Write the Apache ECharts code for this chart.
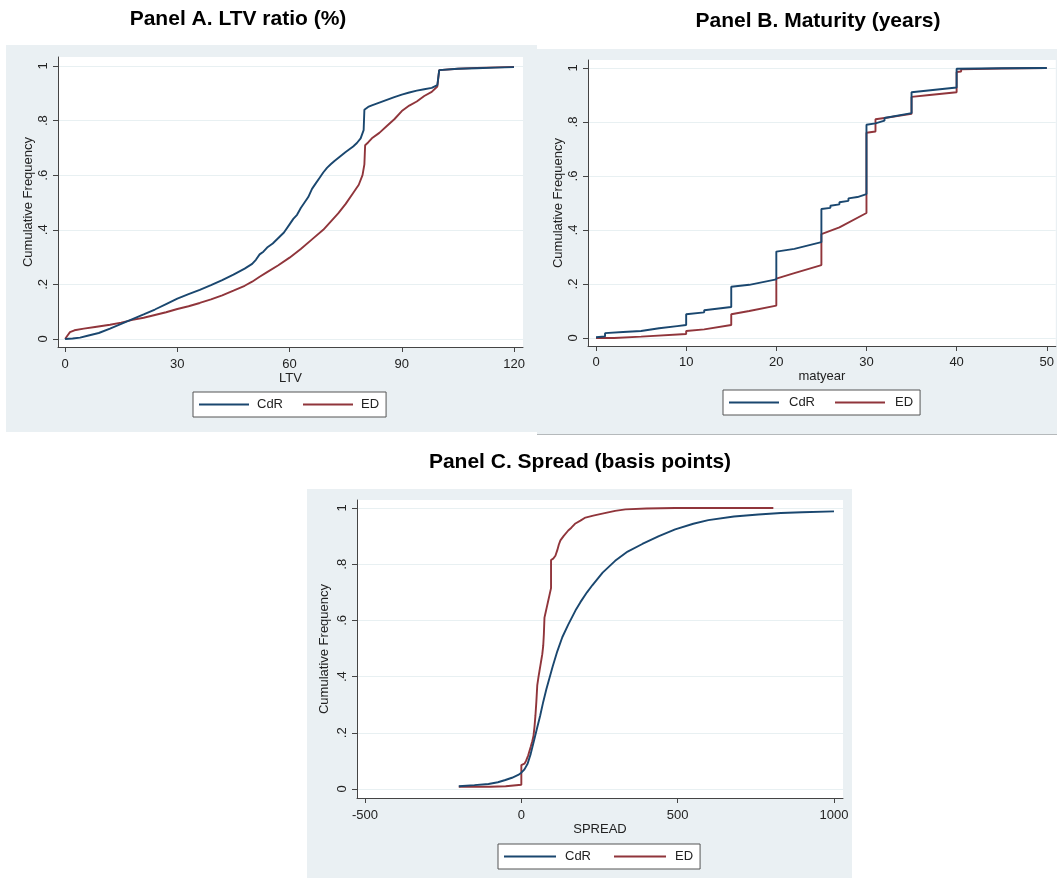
<!DOCTYPE html>
<html><head><meta charset="utf-8">
<script src="https://cdn.jsdelivr.net/npm/echarts@6/dist/echarts.min.js"></script>
<style>html,body{margin:0;padding:0;background:#fff}#c{width:1057px;height:878px}</style>
</head><body><div id="c"></div>
<script>
// ---------- DATA ----------
const seriesNames = ['CdR', 'ED'];
const panelTitles = ['Panel A. LTV ratio (%)', 'Panel B. Maturity (years)', 'Panel C. Spread (basis points)'];
const xAxisTitles = ['LTV', 'matyear', 'SPREAD'];
const yAxisTitle = 'Cumulative Frequency';
const yTicks = [0, 0.2, 0.4, 0.6, 0.8, 1];
const yTickLabels = ['0', '.2', '.4', '.6', '.8', '1'];
const ltvTicks = [0, 30, 60, 90, 120];
const matTicks = [0, 10, 20, 30, 40, 50];
const spreadTicks = [-500, 0, 500, 1000];

// Panel A: LTV ratio
const ltvCdR = [[0,0],[2,0.002],[4,0.005],[6,0.012],[9,0.022],[12,0.038],[15,0.055],[18,0.073],[21,0.09],[24,0.108],[27,0.128],[30,0.148],[33,0.164],[36,0.18],[39,0.197],[42,0.216],[45,0.236],[48,0.258],[50,0.275],[51,0.29],[52,0.31],[53,0.32],[54,0.335],[55.5,0.35],[57,0.37],[58.5,0.39],[60,0.42],[61,0.44],[62,0.455],[63,0.48],[64,0.5],[65,0.52],[66,0.55],[67,0.57],[68,0.59],[69,0.61],[70,0.627],[71,0.64],[72,0.652],[73,0.663],[74,0.674],[75,0.685],[76,0.695],[77,0.705],[78,0.718],[79,0.735],[79.8,0.765],[80,0.84],[81,0.85],[82,0.856],[84,0.866],[86,0.876],[88,0.886],[90,0.895],[92,0.903],[94,0.91],[96,0.915],[98,0.92],[99.5,0.93],[100,0.985],[105,0.99],[110,0.992],[115,0.994],[120,0.996]];
const ltvED = [[0,0],[0.5,0.01],[1.3,0.025],[2.5,0.032],[5,0.038],[8,0.044],[12,0.052],[15,0.06],[18,0.07],[21,0.078],[24,0.088],[27,0.098],[30,0.11],[33,0.12],[36,0.132],[39,0.145],[42,0.16],[45,0.177],[48,0.195],[50,0.21],[52,0.228],[54,0.245],[57,0.27],[60,0.298],[63,0.33],[66,0.365],[69,0.4],[71,0.43],[73,0.46],[75,0.495],[77,0.535],[78.5,0.565],[79.5,0.6],[80,0.64],[80.2,0.71],[81,0.72],[82,0.735],[84,0.755],[86,0.78],[88,0.805],[90,0.835],[92,0.855],[94,0.87],[96,0.89],[98,0.905],[99.5,0.925],[100,0.985],[105,0.99],[110,0.993],[115,0.995],[120,0.997]];

// Panel B: maturity (years)
const matCdR = [[0,0.003],[1,0.006],[1,0.018],[3,0.022],[5,0.026],[5,0.032],[7,0.036],[9,0.044],[10,0.048],[10,0.088],[12,0.095],[12,0.103],[15,0.115],[15,0.19],[17,0.197],[20,0.217],[20,0.32],[22,0.33],[25,0.355],[25,0.478],[26,0.482],[26,0.49],[27,0.495],[27,0.503],[28,0.508],[28,0.517],[29,0.522],[29,0.527],[30,0.533],[30,0.79],[31,0.795],[31,0.8],[32,0.805],[32,0.815],[35,0.833],[35,0.91],[40,0.928],[40,0.997],[45,0.999],[50,1.0]];
const matED = [[0,0],[2,0],[5,0.005],[10,0.015],[10,0.026],[12,0.032],[15,0.048],[15,0.088],[17,0.1],[20,0.12],[20,0.22],[22,0.24],[25,0.27],[25,0.385],[27,0.41],[30,0.463],[30,0.76],[31,0.765],[31,0.81],[32,0.815],[35,0.83],[35,0.893],[37,0.9],[40,0.91],[40,0.985],[40.5,0.987],[40.5,0.995],[45,0.998],[50,1.0]];

// Panel C: spread (basis points)
const spreadCdR = [[-200,0.01],[-150,0.014],[-105,0.018],[-75,0.024],[-51,0.032],[-30,0.04],[-10,0.05],[0,0.058],[10,0.07],[20,0.09],[30,0.125],[40,0.17],[50,0.215],[60,0.26],[70,0.31],[80,0.355],[90,0.395],[100,0.435],[115,0.49],[131,0.54],[150,0.585],[173,0.635],[189,0.665],[210,0.7],[227,0.725],[260,0.77],[300,0.812],[340,0.845],[387,0.872],[440,0.9],[492,0.924],[550,0.944],[598,0.957],[680,0.97],[758,0.977],[830,0.982],[898,0.985],[1000,0.988]];
const spreadED = [[-200,0.008],[-100,0.008],[-50,0.01],[0,0.015],[0,0.085],[10,0.09],[15,0.1],[22,0.12],[30,0.15],[35,0.17],[39,0.19],[42,0.22],[45,0.26],[48,0.31],[51,0.37],[55,0.4],[58,0.42],[61,0.44],[64,0.46],[67,0.48],[70,0.51],[72,0.55],[74,0.61],[78,0.63],[82,0.65],[86,0.67],[90,0.69],[95,0.715],[95,0.815],[102,0.82],[109,0.83],[115,0.85],[120,0.87],[125,0.885],[135,0.9],[150,0.92],[160,0.93],[173,0.945],[189,0.955],[205,0.966],[230,0.973],[259,0.98],[300,0.99],[333,0.995],[400,0.998],[492,1.0],[806,1.0]];

// ---------- CHART ----------
const FONT = '"Liberation Sans", Arial, Helvetica, sans-serif';
const BLUE = '#1a476f', RED = '#90353b';
const BG = '#eaf0f3';
const AXIS = '#444';

const panels = [
  {grid:{left:58, top:57, width:465, height:290}, xmin:-1.9, xmax:122.4, ymin:-0.0293, ymax:1.033, ticks:ltvTicks, lblMargin:11, nameGap:23, yNameGap:23,
   title:{x:238, y:9}, bg:[6,45,531,387], legend:{left:193, top:392, iw:50, gap:20, tp:3}, data:[ltvCdR, ltvED]},
  {grid:{left:588, top:60, width:468, height:286}, xmin:-0.89, xmax:51.0, ymin:-0.0296, ymax:1.0296, ticks:matTicks, lblMargin:10, nameGap:22, yNameGap:23,
   title:{x:818, y:11}, bg:[537,49,520,385], legend:{left:723, top:390, iw:50, gap:20, tp:5}, data:[matCdR, matED]},
  {grid:{left:357, top:500, width:486, height:298}, xmin:-525.6, xmax:1028.8, ymin:-0.032, ymax:1.0285, ticks:spreadTicks, lblMargin:11, nameGap:23, yNameGap:26,
   title:{x:580, y:452}, bg:[307,489,545,389], legend:{left:498, top:844, iw:52, gap:23, tp:4}, data:[spreadCdR, spreadED]}
];

const option = {
  animation: false,
  backgroundColor: '#fff',
  textStyle: {fontFamily: FONT},
  title: panels.map((p, i) => ({
    text: panelTitles[i], left: p.title.x, top: p.title.y, textAlign: 'center', padding: 0,
    textStyle: {fontFamily: FONT, fontWeight: 'bold', fontSize: 21, color: '#000'}
  })),
  graphic: panels.map(p => ({
    type: 'rect', z: -10, silent: true,
    shape: {x: p.bg[0], y: p.bg[1], width: p.bg[2], height: p.bg[3]},
    style: {fill: BG}
  })).concat([{type:'line', z:-9, silent:true, shape:{x1:537,y1:434.5,x2:1057,y2:434.5}, style:{stroke:'#b5b9bb', lineWidth:1}}]),
  grid: panels.map(p => Object.assign({show: true, backgroundColor: '#fff', borderWidth: 0, containLabel: false}, p.grid)),
  xAxis: panels.map((p, i) => ({
    type: 'value', gridIndex: i, min: p.xmin, max: p.xmax,
    name: xAxisTitles[i], nameLocation: 'middle', nameGap: p.nameGap,
    nameTextStyle: {fontFamily: FONT, fontSize: 13, color: '#222'},
    axisLine: {show: true, onZero: false, lineStyle: {color: AXIS, width: 1}},
    axisTick: {show: true, length: 5, customValues: p.ticks, lineStyle: {color: AXIS}},
    axisLabel: {customValues: p.ticks, margin: p.lblMargin, fontFamily: FONT, fontSize: 13, color: '#222', formatter: v => String(v)},
    splitLine: {show: false}
  })),
  yAxis: panels.map((p, i) => ({
    type: 'value', gridIndex: i, min: p.ymin, max: p.ymax,
    name: yAxisTitle, nameLocation: 'middle', nameRotate: 90, nameGap: p.yNameGap,
    nameTextStyle: {fontFamily: FONT, fontSize: 13, color: '#222'},
    axisLine: {show: true, onZero: false, lineStyle: {color: AXIS, width: 1}},
    axisTick: {show: true, length: 5, customValues: yTicks, lineStyle: {color: AXIS}},
    axisLabel: {customValues: yTicks, rotate: 90, margin: 8, fontFamily: FONT, fontSize: 13, color: '#222',
      formatter: v => { const k = yTicks.indexOf(v); return k >= 0 ? yTickLabels[k] : String(v); }},
    splitLine: {show: true, lineStyle: {color: '#e8f0f2', width: 1}}
  })),
  legend: panels.map(p => ({
    data: seriesNames, left: p.legend.left, top: p.legend.top, orient: 'horizontal',
    icon: 'rect', itemWidth: p.legend.iw, itemHeight: 2, itemGap: p.legend.gap,
    padding: [6, 7, 6, 6], backgroundColor: '#fff', borderColor: '#555', borderWidth: 1, borderRadius: 0,
    selectedMode: false,
    textStyle: {fontFamily: FONT, fontSize: 13, color: '#222', padding: [0, 0, 0, p.legend.tp]}
  })),
  series: []
};

panels.forEach((p, i) => {
  seriesNames.forEach((name, j) => {
    option.series.push({
      name: name, type: 'line', xAxisIndex: i, yAxisIndex: i,
      data: p.data[j], symbol: 'none', showSymbol: false, smooth: false,
      color: j === 0 ? BLUE : RED,
      lineStyle: {color: j === 0 ? BLUE : RED, width: 1.9},
      z: j === 0 ? 3 : 2
    });
  });
});

const chart = echarts.init(document.getElementById('c'), null, {renderer: 'canvas'});
chart.setOption(option);
</script></body></html>
